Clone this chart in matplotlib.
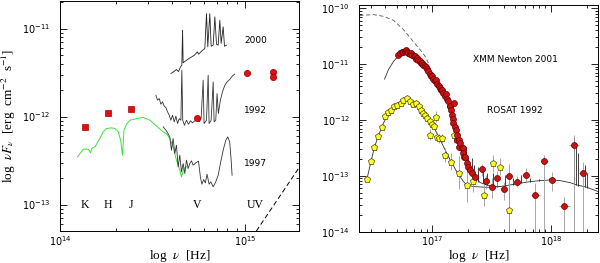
import numpy as np
import matplotlib.pyplot as plt
from matplotlib.ticker import NullFormatter

plt.rcParams['mathtext.fontset'] = 'stix'
plt.rcParams['font.size'] = 7

# ---------------- left panel data (log10 nu, log10 nuFnu) ----------------
# photometry
nir_lognu = [14.136, 14.260, 14.382]
nir_logf = [-12.122, -11.963, -11.917]
opt_lognu = [14.741, 15.009, 15.149, 15.149]
opt_logf = [-12.020, -11.505, -11.490, -11.553]

# 1997 IR spectrum (green)
ir97_lognu = [14.095, 14.126, 14.153, 14.165, 14.171, 14.188, 14.215, 14.233, 14.251,
              14.278, 14.296, 14.314, 14.327, 14.337, 14.345, 14.359, 14.377, 14.413,
              14.449, 14.485, 14.521, 14.556, 14.574, 14.592, 14.610, 14.628, 14.646,
              14.655, 14.668, 14.682]
ir97_logf = [-12.458, -12.371, -12.371, -12.413, -12.364, -12.345, -12.250, -12.174, -12.136,
             -12.129, -12.136, -12.174, -12.269, -12.439, -12.155, -12.087, -12.042, -12.023,
             -12.011, -12.042, -12.110, -12.174, -12.193, -12.250, -12.345, -12.496, -12.610,
             -12.686, -12.591, -12.572]

# 1997 optical spectrum
op97_lognu = [14.556, 14.574, 14.592, 14.601, 14.610, 14.619, 14.628, 14.637, 14.646,
              14.655, 14.664, 14.673, 14.682, 14.691, 14.700, 14.709, 14.718, 14.732,
              14.747, 14.757, 14.765, 14.775, 14.784, 14.793, 14.804, 14.813, 14.826,
              14.840, 14.853, 14.865, 14.880, 14.894, 14.905, 14.915, 14.923, 14.928]
op97_logf = [-12.117, -12.163, -12.231, -12.383, -12.250, -12.421, -12.326, -12.572, -12.439,
             -12.629, -12.534, -12.648, -12.496, -12.591, -12.534, -12.504, -12.553, -12.527,
             -12.508, -12.686, -12.769, -12.716, -12.754, -12.655, -12.769, -12.742, -12.799,
             -12.742, -12.667, -12.534, -12.383, -12.269, -12.231, -12.288, -12.496, -12.667]

# 1992 spectrum
sp92_lognu = [14.517, 14.526, 14.535, 14.544, 14.553, 14.562, 14.571, 14.580, 14.589,
              14.598, 14.607, 14.616, 14.625, 14.634, 14.643, 14.652, 14.657, 14.662,
              14.671, 14.682, 14.693, 14.704, 14.714, 14.727, 14.740, 14.750, 14.761,
              14.772, 14.777, 14.790, 14.799, 14.804, 14.815, 14.826, 14.831, 14.840,
              14.847, 14.854, 14.865, 14.876, 14.889, 14.901, 14.915, 14.928, 14.942]
sp92_logf = [-11.758, -11.814, -11.795, -11.860, -11.833, -11.883, -11.898, -11.947, -11.985,
             -12.042, -11.985, -12.061, -11.996, -12.080, -12.023, -12.042, -11.473, -12.042,
             -12.099, -12.042, -12.087, -12.049, -12.072, -12.049, -12.034, -12.061, -12.023,
             -11.587, -12.080, -12.042, -11.530, -12.080, -12.042, -11.606, -12.061, -12.042,
             -11.739, -11.966, -11.814, -11.720, -11.644, -11.606, -11.580, -11.542, -11.519]

# 2000 spectrum
sp00_lognu = [14.598, 14.614, 14.628, 14.639, 14.650, 14.657, 14.661, 14.664, 14.682,
              14.704, 14.725, 14.741, 14.747, 14.765, 14.781, 14.790, 14.797, 14.808,
              14.815, 14.826, 14.835, 14.844, 14.853, 14.862, 14.869, 14.880, 14.887, 14.898]
sp00_logf = [-11.511, -11.489, -11.466, -11.489, -11.436, -11.417, -11.019, -11.390, -11.360,
             -11.330, -11.303, -11.265, -11.292, -11.254, -11.227, -10.830, -11.208, -10.830,
             -11.201, -11.189, -10.867, -11.178, -11.189, -10.905, -11.170, -10.981, -11.201, -11.189]

# disk extrapolation (dashed)
disk_lognu = [15.059, 15.287]
disk_logf = [-13.301, -12.588]

band_names = ['K', 'H', 'J', 'V', 'UV']
band_lognu = [14.136, 14.260, 14.382, 14.741, 15.054]
epoch_names = ['2000', '1992', '1997']
epoch_logf = [-11.133, -11.928, -12.530]

# ---------------- right panel data ----------------
# XMM Newton 2001
xmm_lognu = [16.713, 16.727, 16.741, 16.755, 16.769, 16.778, 16.783, 16.797, 16.811, 16.817,
             16.825, 16.840, 16.854, 16.862, 16.868, 16.882, 16.896, 16.901, 16.910, 16.924,
             16.938, 16.947, 16.952, 16.966, 16.980, 16.986, 16.994, 17.008, 17.023, 17.031,
             17.037, 17.051, 17.065, 17.070, 17.079, 17.093, 17.107, 17.115, 17.121, 17.132,
             17.144, 17.149, 17.155, 17.163, 17.172, 17.177, 17.186, 17.191, 17.200, 17.205,
             17.211, 17.222, 17.228, 17.234, 17.248, 17.256, 17.262, 17.267, 17.276, 17.290,
             17.304, 17.318]
xmm_logf = [-10.833, -10.804, -10.792, -10.780, -10.774, -10.756, -10.786, -10.804, -10.815, -10.804,
            -10.833, -10.851, -10.863, -10.911, -10.893, -10.923, -10.953, -10.983, -10.983, -11.013,
            -11.042, -11.060, -11.090, -11.132, -11.174, -11.210, -11.222, -11.269, -11.311, -11.281,
            -11.353, -11.389, -11.431, -11.472, -11.472, -11.520, -11.568, -11.532, -11.628, -11.670,
            -11.747, -11.759, -11.819, -11.909, -11.986, -12.058, -11.700, -12.118, -12.189, -12.357,
            -12.267, -12.357, -12.476, -12.416, -12.506, -12.506, -12.596, -12.655, -12.655, -12.763,
            -12.835, -12.894]
xmm_err = 0.05

xmm_hard_lognu = [17.332, 17.360, 17.417, 17.450, 17.501, 17.543, 17.600, 17.650, 17.712,
                  17.788, 17.870, 17.943, 18.011, 18.115, 18.196, 18.275]
xmm_hard_logf = [-12.954, -13.014, -12.882, -13.086, -13.193, -13.032, -13.235, -12.996, -13.104,
                 -12.978, -13.336, -12.739, -13.079, -13.533, -12.446, -12.954]
xmm_hard_up = [0.08, 0.10, 0.10, 0.10, 0.15, 0.12, 0.12, 0.20, 0.10, 0.12, 0.20, 0.12, 0.15, 0.16, 0.18, 0.21]
xmm_hard_dn = [0.08, 0.10, 0.12, 0.15, 0.20, 0.15, 0.20, 1.00, 0.10, 0.15, 1.00, 1.50, 0.20, 1.00, 1.60, 1.10]
xmm_hard_dx = [0.01, 0.01, 0.02, 0.02, 0.02, 0.02, 0.02, 0.02, 0.03, 0.03, 0.035, 0.03, 0.035, 0.045, 0.04, 0.04]

# ROSAT 1992
ros_lognu = [16.445, 16.482, 16.510, 16.544, 16.572, 16.595, 16.623, 16.648, 16.676, 16.704,
             16.735, 16.755, 16.783, 16.811, 16.834, 16.862, 16.887, 16.904, 16.924, 16.938,
             16.958, 16.980, 17.000, 17.017, 17.031, 16.980, 17.037, 17.056, 17.079, 17.107,
             17.158, 17.186, 17.225, 17.290, 17.346, 17.436, 17.510, 17.571, 17.647]
ros_logf = [-13.062, -12.733, -12.488, -12.279, -12.118, -11.927, -11.861, -11.831, -11.747, -11.735,
            -11.700, -11.640, -11.616, -11.670, -11.712, -11.700, -11.759, -11.819, -11.879, -11.909,
            -11.969, -12.028, -12.070, -12.106, -11.940, -12.267, -12.297, -12.326, -12.326, -12.625,
            -12.745, -12.267, -12.942, -13.163, -13.086, -13.342, -12.775, -12.835, -13.612]
ros_err = [0.02, 0.02, 0.02, 0.02, 0.02, 0.02, 0.02, 0.02, 0.02, 0.02,
           0.02, 0.02, 0.02, 0.02, 0.02, 0.02, 0.03, 0.03, 0.03, 0.03,
           0.04, 0.04, 0.05, 0.05, 0.10, 0.10, 0.08, 0.08, 0.08, 0.12,
           0.15, 0.15, 0.30, 0.30, 0.20, 0.20, 0.15, 0.15, 0.63]

# models
ros_mod_lognu = [16.445, 16.482, 16.510, 16.544, 16.586, 16.628, 16.671, 16.727, 16.778, 16.825,
                 16.868, 16.896, 16.952, 17.008, 17.065, 17.107, 17.149, 17.205, 17.262, 17.290,
                 17.346, 17.459, 17.571, 17.656, 17.740, 17.825, 17.909, 17.994, 18.078, 18.163,
                 18.219, 18.303, 18.402]
ros_mod_logf = [-13.074, -12.733, -12.488, -12.279, -12.058, -11.879, -11.771, -11.670, -11.628, -11.670,
                -11.729, -11.789, -11.950, -12.118, -12.357, -12.536, -12.715, -12.924, -13.104, -13.163,
                -13.193, -13.205, -13.193, -13.163, -13.133, -13.104, -13.086, -13.074, -13.086, -13.122,
                -13.163, -13.205, -13.283]
xmm_mod_lognu = [16.595, 16.628, 16.671, 16.713, 16.769, 16.840, 16.896, 16.938, 16.980, 17.023,
                 17.065, 17.107, 17.135, 17.163, 17.191, 17.220, 17.248, 17.276, 17.304, 17.332,
                 17.360, 17.403, 17.459, 17.515, 17.571]
xmm_mod_logf = [-11.270, -11.102, -10.953, -10.851, -10.803, -10.863, -10.953, -11.042, -11.174, -11.299,
                -11.419, -11.568, -11.688, -11.819, -11.998, -12.225, -12.416, -12.596, -12.763, -12.906,
                -13.014, -13.122, -13.163, -13.193, -13.193]
# emission lines on the XMM model
line_lognu = [17.282, 17.304, 17.332, 17.355, 17.388, 17.425, 17.464, 17.510, 17.549, 17.614,
              17.684, 17.746, 17.825, 17.898, 17.980, 18.199, 18.213, 18.230, 18.289, 18.309]
line_top = [-12.477, -12.655, -12.685, -12.805, -12.835, -12.894, -12.954, -12.954, -13.014, -12.984,
            -13.044, -12.984, -13.044, -13.062, -13.044, -12.300, -12.420, -12.600, -12.809, -12.954]
line_base = [-12.775, -12.865, -12.954, -13.044, -13.104, -13.133, -13.163, -13.181, -13.193, -13.181,
             -13.163, -13.133, -13.104, -13.086, -13.074, -13.163, -13.169, -13.181, -13.205, -13.211]
# unabsorbed model (dashed)
unabs_lognu = [16.383, 16.403, 16.502, 16.586, 16.671, 16.755, 16.825, 16.896, 16.938, 16.966]
unabs_logf = [-10.135, -10.128, -10.116, -10.146, -10.218, -10.385, -10.565, -10.744, -10.863, -10.983]


def p(a):
    return 10 ** np.asarray(a)


def style(ax):
    ax.set_xscale('log')
    ax.set_yscale('log')
    ax.tick_params(which='both', direction='in', top=True, right=True, width=0.6, labelsize=7)
    ax.tick_params(which='major', length=5)
    ax.tick_params(which='minor', length=2.5)
    ax.tick_params(axis='x', which='major', pad=2)
    ax.tick_params(axis='y', which='major', pad=7)
    ax.xaxis.set_minor_formatter(NullFormatter())
    ax.yaxis.set_minor_formatter(NullFormatter())
    for s in ax.spines.values():
        s.set_linewidth(0.7)


serif = 'Liberation Serif'
fig = plt.figure(figsize=(6, 2.63), dpi=100)
axL = fig.add_axes([0.1, 0.1217, 0.398, 0.8734])
axR = fig.add_axes([0.599, 0.119, 0.3973, 0.8605])

# ---- left ----
axL.plot(p(ir97_lognu), p(ir97_logf), color='#3ee03e', lw=0.7)
axL.plot(p(op97_lognu), p(op97_logf), color='#333333', lw=0.6)
axL.plot(p(sp92_lognu), p(sp92_logf), color='#333333', lw=0.6)
axL.plot(p(sp00_lognu), p(sp00_logf), color='#222222', lw=0.6)
axL.plot(p(disk_lognu), p(disk_logf), color='k', lw=0.7, ls=(0, (5, 3)))
axL.plot(p(nir_lognu), p(nir_logf), 's', ms=5, color='#dd1111', mec='#aa0000', mew=0.5)
axL.plot(p(opt_lognu), p(opt_logf), 'o', ms=4.5, color='#dd1111', mec='#990000', mew=0.5)
for name, x in zip(band_names, band_lognu):
    axL.text(10 ** x, 10 ** -13.007, name, ha='center', va='center', family=serif, fontsize=8.5)
for name, y in zip(epoch_names, epoch_logf):
    axL.text(10 ** 15.054, 10 ** y, name, ha='center', va='center', fontsize=6.5)
style(axL)
axL.set_xlim(1e14, 1.94e15)
axL.set_ylim(5e-14, 2.04e-11)
axL.set_xticks([1e14, 1e15])
axL.set_yticks([1e-13, 1e-12, 1e-11])
axL.set_xlabel(r'log  $\nu$  [Hz]', family=serif, fontsize=9.5, labelpad=0)
axL.set_ylabel(r'log  $\nu F_\nu$  [erg  cm$^{-2}$  s$^{-1}$]', family=serif, fontsize=9.5, labelpad=3)

# ---- right ----
axR.plot(p(unabs_lognu), p(unabs_logf), color='#555555', lw=0.6, ls=(0, (5, 3)))
axR.plot(p(ros_mod_lognu), p(ros_mod_logf), color='#333333', lw=0.6)
axR.plot(p(xmm_mod_lognu), p(xmm_mod_logf), color='#333333', lw=0.6)
axR.vlines(p(line_lognu), p(line_base), p(line_top), color='#222222', lw=0.6)

xh = p(xmm_hard_lognu)
yh = p(xmm_hard_logf)
axR.errorbar(xh, yh,
             yerr=[yh - p(np.array(xmm_hard_logf) - xmm_hard_dn), p(np.array(xmm_hard_logf) + xmm_hard_up) - yh],
             xerr=[xh - p(np.array(xmm_hard_lognu) - xmm_hard_dx), p(np.array(xmm_hard_lognu) + xmm_hard_dx) - xh],
             fmt='none', ecolor='#999999', elinewidth=0.6)
yr = p(ros_logf)
axR.errorbar(p(ros_lognu), yr,
             yerr=[yr - p(np.array(ros_logf) - ros_err), p(np.array(ros_logf) + ros_err) - yr],
             fmt='none', ecolor='#999999', elinewidth=0.6)
yx = p(xmm_logf)
axR.errorbar(p(xmm_lognu), yx,
             yerr=[yx - p(np.array(xmm_logf) - xmm_err), p(np.array(xmm_logf) + xmm_err) - yx],
             fmt='none', ecolor='#999999', elinewidth=0.6)

axR.plot(p(ros_lognu), yr, 'p', ms=4.5, mfc='#ffff22', mec='#444400', mew=0.5)
axR.plot(p(xmm_lognu), yx, 'o', ms=4.3, mfc='#cc1111', mec='#660000', mew=0.5)
axR.plot(xh, yh, 'o', ms=4.3, mfc='#cc1111', mec='#660000', mew=0.5)

axR.text(10 ** 17.698, 10 ** -10.923, 'XMM Newton 2001', ha='center', va='center', fontsize=6.5)
axR.text(10 ** 17.698, 10 ** -11.837, 'ROSAT 1992', ha='center', va='center', fontsize=6.5)
style(axR)
axR.set_xlim(2.415e16, 2.49e18)
axR.set_ylim(1e-14, 1.12e-10)
axR.set_xticks([1e17, 1e18])
axR.set_yticks([1e-14, 1e-13, 1e-12, 1e-11, 1e-10])
axR.set_xlabel(r'log  $\nu$  [Hz]', family=serif, fontsize=9.5, labelpad=0)

fig.savefig('out.png', dpi=100)
